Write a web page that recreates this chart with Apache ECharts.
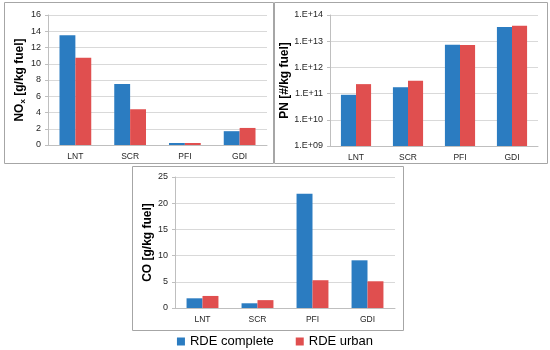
<!DOCTYPE html>
<html><head><meta charset="utf-8">
<script src="https://cdn.jsdelivr.net/npm/echarts@6/dist/echarts.min.js"></script>
<style>html,body{margin:0;padding:0;background:#fff}#c{width:550px;height:350px}</style>
</head><body><div id="c"></div>
<script>
const categories = ['LNT', 'SCR', 'PFI', 'GDI'];
const seriesNames = ['RDE complete', 'RDE urban'];
const noxComplete = [13.5, 7.5, 0.25, 1.7];
const noxUrban = [10.75, 4.4, 0.25, 2.1];
const pnComplete = [9e10, 1.75e11, 7.4e12, 3.5e13];
const pnUrban = [2.3e11, 3.1e11, 7.2e12, 3.9e13];
const coComplete = [1.85, 0.9, 21.8, 9.1];
const coUrban = [2.3, 1.5, 5.3, 5.1];

const BLUE = '#2B7CC1', RED = '#E04F4F';
const font = 'Liberation Sans';
const chart = echarts.init(document.getElementById('c'), null, {renderer: 'canvas'});

function xAx(i) {
  return {type: 'category', gridIndex: i, data: categories,
    axisLine: {lineStyle: {color: '#bfbfbf'}}, axisTick: {show: false},
    axisLabel: {color: '#262626', fontSize: 8.5, fontFamily: font, margin: 7}};
}
function yAx(i, extra) {
  return Object.assign({gridIndex: i, type: 'value',
    axisLine: {show: true, lineStyle: {color: '#bfbfbf'}},
    axisTick: {show: true, length: 3, lineStyle: {color: '#bfbfbf'}},
    splitLine: {lineStyle: {color: '#d9d9d9'}},
    axisLabel: {color: '#262626', fontSize: 9, fontFamily: font, margin: 7},
    nameLocation: 'middle', nameRotate: 90,
    nameTextStyle: {fontWeight: 'bold', fontSize: 12, color: '#000', fontFamily: font}}, extra);
}
function bar(name, data, color, i) {
  return {type: 'bar', name: name, data: data, xAxisIndex: i, yAxisIndex: i,
    barGap: '0%', barCategoryGap: '42%', itemStyle: {color: color}};
}

chart.setOption({
  animation: false,
  textStyle: {fontFamily: font},
  graphic: [
    {type: 'rect', shape: {x: 4.5, y: 2.5, width: 269, height: 161}, style: {fill: 'none', stroke: '#a6a6a6', lineWidth: 1}},
    {type: 'rect', shape: {x: 274.5, y: 2.5, width: 273, height: 161}, style: {fill: 'none', stroke: '#a6a6a6', lineWidth: 1}},
    {type: 'rect', shape: {x: 132.5, y: 166.5, width: 271, height: 164}, style: {fill: 'none', stroke: '#a6a6a6', lineWidth: 1}}
  ],
  legend: {data: seriesNames, bottom: -3, left: 'center', itemWidth: 8, itemHeight: 8, itemGap: 22, icon: 'rect',
    textStyle: {fontSize: 13, color: '#000', fontFamily: font}},
  grid: [
    {left: 48, top: 15, width: 219, height: 130},
    {left: 330, top: 15, width: 208, height: 131},
    {left: 175, top: 177, width: 220, height: 131}
  ],
  xAxis: [xAx(0), xAx(1), xAx(2)],
  yAxis: [
    yAx(0, {min: 0, max: 16, interval: 2, name: 'NO{sub|x} [g/kg fuel]', nameGap: 20,
      nameTextStyle: {fontWeight: 'bold', fontSize: 12, color: '#000', fontFamily: font,
        rich: {sub: {fontSize: 8, fontWeight: 'bold', verticalAlign: 'bottom', padding: [6, 0, 0, 0]}}}}),
    yAx(1, {type: 'log', logBase: 10, min: 1e9, max: 1e14, name: 'PN [#/kg fuel]', nameGap: 34,
      axisLabel: {color: '#262626', fontSize: 9, fontFamily: font, margin: 7,
        formatter: v => '1.E+' + String(Math.round(Math.log10(v))).padStart(2, '0')}}),
    yAx(2, {min: 0, max: 25, interval: 5, name: 'CO [g/kg fuel]', nameGap: 19})
  ],
  series: [
    bar(seriesNames[0], noxComplete, BLUE, 0), bar(seriesNames[1], noxUrban, RED, 0),
    bar(seriesNames[0], pnComplete, BLUE, 1), bar(seriesNames[1], pnUrban, RED, 1),
    bar(seriesNames[0], coComplete, BLUE, 2), bar(seriesNames[1], coUrban, RED, 2)
  ]
});
</script></body></html>
